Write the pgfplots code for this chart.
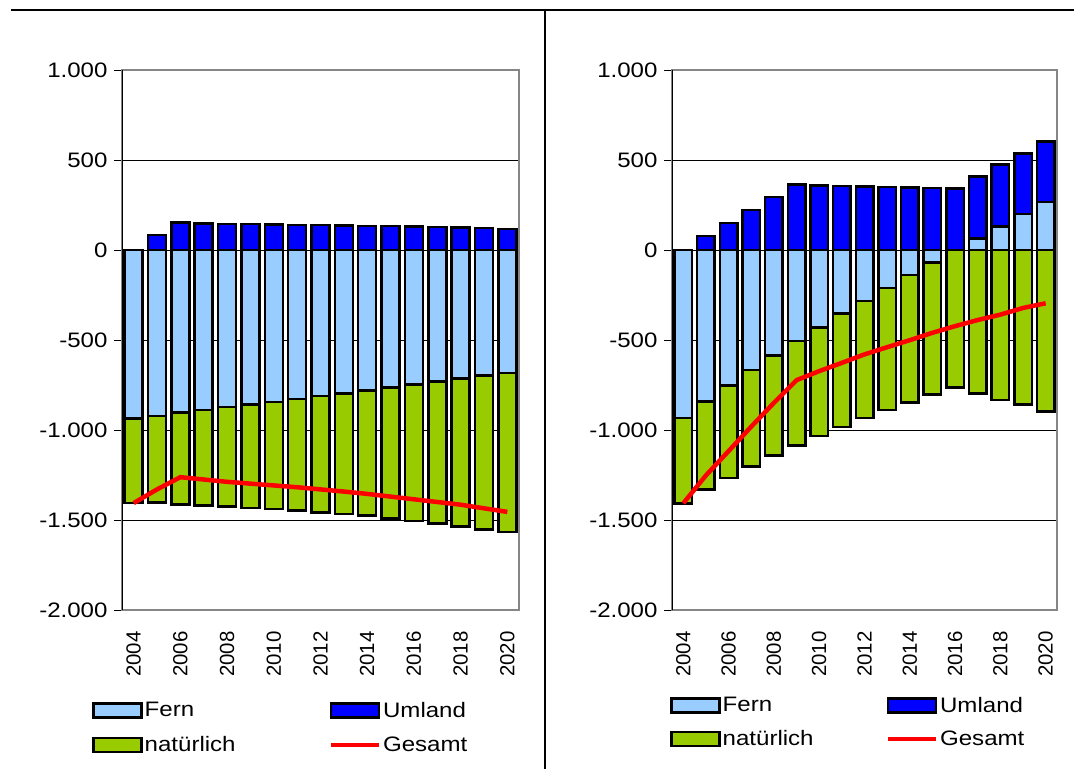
\documentclass[border=0pt]{standalone}
\usepackage{pgfplots}
\pgfplotsset{compat=1.18}
\usepackage{pgfplotstable}
\usepackage{fontspec}
\setmainfont{Liberation Sans}
\newfontfamily\widefont{Liberation Sans}[FakeStretch=1.15]
\definecolor{fernc}{HTML}{99CCFF}
\definecolor{umlc}{HTML}{0000FF}
\definecolor{natc}{HTML}{99CC00}
\definecolor{gesc}{HTML}{FF0000}
\definecolor{framec}{HTML}{868686}

% columns: fern = Fern (negative part, bar from 0), nat = bottom of natuerlich (stacked below Fern),
% uml = top of Umland (stacked above positive Fern), ferp = Fern positive part, ges = Gesamt
\pgfplotstableread{
x fern nat uml ferp ges
0  -935 -1406   0 0 -1406
1  -921 -1403  82 0 -1330
2  -902 -1414 152 0 -1262
3  -888 -1419 148 0 -1275
4  -873 -1425 145 0 -1288
5  -858 -1432 145 0 -1298
6  -844 -1439 141 0 -1308
7  -829 -1448 140 0 -1318
8  -811 -1458 138 0 -1330
9  -796 -1467 137 0 -1342
10 -781 -1476 134 0 -1355
11 -763 -1493 132 0 -1370
12 -746 -1506 130 0 -1385
13 -730 -1520 128 0 -1400
14 -714 -1535 125 0 -1415
15 -698 -1552 122 0 -1435
16 -682 -1568 118 0 -1455
}\leftdata

\pgfplotstableread{
x fern nat uml ferp ges
0  -932 -1407   0   0 -1407
1  -843 -1330  78   0 -1252
2  -752 -1267 150   0 -1117
3  -667 -1204 223   0  -981
4  -585 -1143 294   0  -849
5  -506 -1086 363   0  -723
6  -430 -1032 359   0  -673
7  -352  -982 355   0  -627
8  -282  -933 353   0  -580
9  -212  -890 350   0  -540
10 -139  -847 346   0  -501
11  -69  -804 344   0  -460
12    0  -765 342   0  -423
13    0  -796 407  65  -389
14    0  -833 474 130  -359
15    0  -859 537 199  -322
16    0  -898 602 268  -296
}\rightdata

\pgfplotsset{
  barleg/.style={legend image code/.code={\draw[##1,line width=2.5bp] (0bp,-7bp) rectangle (48bp,7bp);}},
  lineleg/.style={legend image code/.code={\draw[##1] (0bp,0bp) -- (48bp,0bp);}},
  chart/.style={
    scale only axis, height=540bp,
    xmin=-0.5, xmax=16.5, ymin=-2000, ymax=1000,
    ytick={-2000,-1500,...,1000},
    yticklabels={-2.000,-1.500,-1.000,-500,0,500,1.000},
    xtick={0,2,...,16},
    xticklabels={2004,2006,2008,2010,2012,2014,2016,2018,2020},
    yticklabel style={font=\widefont\fontsize{21}{25}\selectfont, xshift=-3bp},
    xticklabel style={font=\fontsize{20.5}{24}\selectfont, rotate=90, anchor=east},
    xticklabel shift=10bp,
    xtick style={draw=none},
    ytick style={black, line width=0.8bp},
    ytick pos=left,
    tick align=outside, major tick length=8bp,
    ymajorgrids, grid style={black, line width=0.7bp},
    axis line style={framec, line width=1.6bp},
    legend cell align=left,
    legend columns=2,
  },
  bars/.style={ybar, bar width=#1, bar shift=0pt, draw=black, line width=2.5bp, forget plot},
}

\begin{document}
\begin{tikzpicture}
\useasboundingbox (0,0) rectangle (1074bp,769bp);

\begin{axis}[chart, at={(122bp,159bp)}, anchor=south west, width=397bp,
  legend style={at={(axis description cs:0,0)}, anchor=north west, xshift=-30bp, yshift=-90bp,
    draw=none, fill=none, inner sep=0pt, font=\widefont\fontsize{21}{25}\selectfont,
    /tikz/every even column/.append style={column sep=91bp}, row sep=14bp}]
\addlegendimage{barleg, fill=fernc, draw=black}\addlegendentry{Fern}
\addlegendimage{barleg, fill=umlc, draw=black}\addlegendentry{Umland}
\addlegendimage{barleg, fill=natc, draw=black}\addlegendentry{natürlich}
\addlegendimage{lineleg, gesc, line width=4.5bp}\addlegendentry{Gesamt}
\addplot[bars=18bp, fill=natc] table[x=x,y=nat]{\leftdata};
\addplot[bars=18bp, fill=fernc] table[x=x,y=fern]{\leftdata};
\addplot[bars=18bp, fill=umlc] table[x=x,y=uml]{\leftdata};
\addplot[gesc, line width=4.5bp, mark=none, forget plot] table[x=x,y=ges]{\leftdata};
\draw[black, line width=1.2bp] (rel axis cs:0,0) -- (rel axis cs:0,1);
\end{axis}

\begin{axis}[chart, at={(672bp,159bp)}, anchor=south west, width=385bp,
  legend style={at={(axis description cs:0,0)}, anchor=north west, xshift=-2bp, yshift=-85bp,
    draw=none, fill=none, inner sep=0pt, font=\widefont\fontsize{21}{25}\selectfont,
    /tikz/every even column/.append style={column sep=70bp}, row sep=13bp}]
\addlegendimage{barleg, fill=fernc, draw=black}\addlegendentry{Fern}
\addlegendimage{barleg, fill=umlc, draw=black}\addlegendentry{Umland}
\addlegendimage{barleg, fill=natc, draw=black}\addlegendentry{natürlich}
\addlegendimage{lineleg, gesc, line width=4.5bp}\addlegendentry{Gesamt}
\addplot[bars=17.5bp, fill=natc] table[x=x,y=nat]{\rightdata};
\addplot[bars=17.5bp, fill=fernc] table[x=x,y=fern]{\rightdata};
\addplot[bars=17.5bp, fill=umlc] table[x=x,y=uml]{\rightdata};
\addplot[bars=17.5bp, fill=fernc] table[x=x,y=ferp]{\rightdata};
\addplot[gesc, line width=4.5bp, mark=none, forget plot] table[x=x,y=ges]{\rightdata};
\draw[black, line width=1.2bp] (rel axis cs:0,0) -- (rel axis cs:0,1);
\end{axis}

\draw[black, line width=2.5bp] (11bp,759bp) -- (1074bp,759bp);
\draw[black, line width=2bp] (545bp,759bp) -- (545bp,0bp);
\end{tikzpicture}
\end{document}
